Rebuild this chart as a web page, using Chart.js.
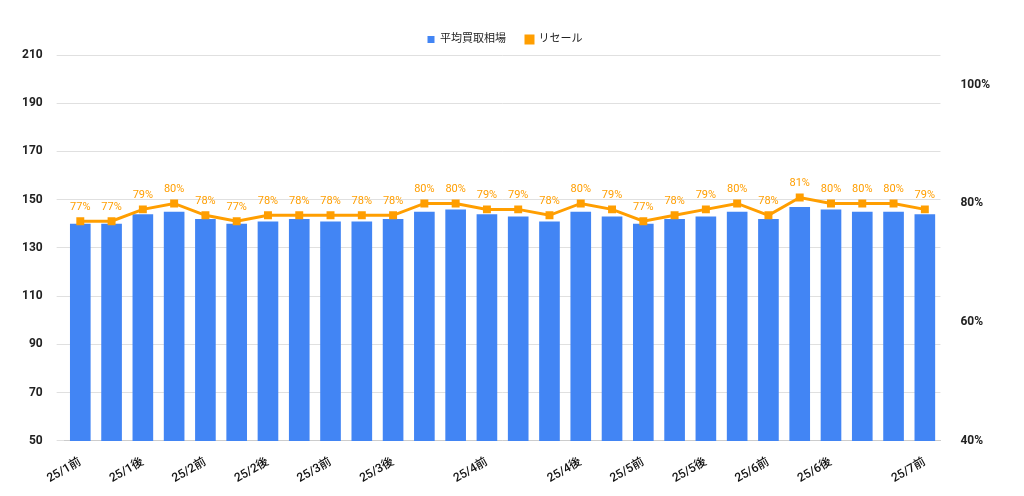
<!DOCTYPE html>
<html><head><meta charset="utf-8">
<script src="https://cdn.jsdelivr.net/npm/chart.js@4"></script>
<style>html,body{margin:0;padding:0;background:#fff}#w{width:1024px;height:496px}</style>
</head><body><div id="w"><canvas id="c"></canvas></div>
<script>
const categories = ['25/1前','','25/1後','','25/2前','','25/2後','','25/3前','','25/3後','','','25/4前','','','25/4後','','25/5前','','25/5後','','25/6前','','25/6後','','','25/7前'];
const avgPrice = [140,140,144,145,142,140,141,142,141,141,142,145,146,144,143,141,145,143,140,142,143,145,142,147,146,145,145,144];
const resale = [77,77,79,80,78,77,78,78,78,78,78,80,80,79,79,78,80,79,77,78,79,80,78,81,80,80,80,79];
const leftTicks = [50,70,90,110,130,150,170,190,210];
const rightTicks = [40,60,80,100];
const FONT = 'Roboto, "Noto Sans CJK JP", sans-serif';

const labelPlugin = {
  id: 'lbl',
  afterDatasetsDraw(chart) {
    const ctx = chart.ctx;
    ctx.save();
    ctx.font = '11px ' + FONT;
    ctx.textAlign = 'center';
    chart.getDatasetMeta(1).data.forEach((b, i) => {
      ctx.fillStyle = '#fff'; ctx.textBaseline = 'bottom';
      ctx.fillText(avgPrice[i], b.x, b.base - 3);
    });
    chart.getDatasetMeta(0).data.forEach((p, i) => {
      ctx.fillStyle = '#FF9E00'; ctx.textBaseline = 'bottom';
      ctx.fillText(resale[i] + '%', p.x, p.y - 9);
    });
    ctx.restore();
  }
};

new Chart(document.getElementById('c'), {
  data: {
    labels: categories,
    datasets: [
      { type: 'line', label: 'リセール', data: resale, yAxisID: 'y1', borderColor: '#FF9E00', backgroundColor: '#FF9E00', borderWidth: 3, pointStyle: 'rect', pointRadius: 3.5, order: 0 },
      { type: 'bar', label: '平均買取相場', data: avgPrice, yAxisID: 'y', backgroundColor: '#4285F4', categoryPercentage: 0.66, barPercentage: 1, order: 1 }
    ]
  },
  options: {
    responsive: true, maintainAspectRatio: false, animation: false,
    layout: { padding: { left: 8, right: 22, top: 14, bottom: 4 } },
    plugins: {
      legend: { reverse: true, labels: { boxWidth: 7, boxHeight: 7, font: { family: FONT, size: 11 }, color: '#222', padding: 20 } },
      tooltip: { enabled: false }
    },
    scales: {
      x: { grid: { display: false }, border: { color: '#ccc' },
        ticks: { autoSkip: false, maxRotation: 30, minRotation: 30, font: { family: FONT, size: 12, weight: '500' }, color: '#111', padding: 6 } },
      y: { position: 'left', min: 50, max: 210, afterBuildTicks: a => { a.ticks = leftTicks.map(v => ({ value: v })); },
        grid: { color: '#e0e0e0' }, border: { display: false },
        ticks: { font: { family: FONT, size: 12, weight: 'bold' }, color: '#222', padding: 14 } },
      y1: { position: 'right', min: 40, max: 105, afterBuildTicks: a => { a.ticks = rightTicks.map(v => ({ value: v })); },
        grid: { display: false }, border: { display: false },
        ticks: { font: { family: FONT, size: 12, weight: 'bold' }, color: '#222', padding: 12, callback: v => v + '%' } }
    }
  },
  plugins: [labelPlugin]
});
</script></body></html>
